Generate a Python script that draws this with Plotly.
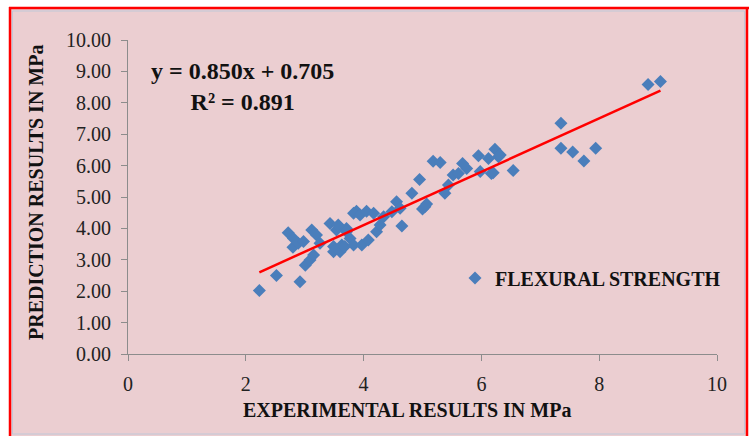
import plotly.graph_objects as go

# Experimental vs predicted flexural strength (MPa)
experimental = [
    2.23, 2.52, 2.92, 2.72, 2.81, 2.80, 2.89, 3.01, 3.09, 3.15,
    2.98, 3.12, 3.20, 3.26, 3.43, 3.49, 3.63, 3.54, 3.71, 3.49,
    3.60, 3.57, 3.71, 3.77, 3.68, 3.83, 3.97, 4.08, 4.22, 4.28,
    3.88, 3.83, 3.94, 4.05, 4.17, 4.34, 4.48, 4.56, 4.62, 4.65,
    4.82, 4.95, 5.04, 5.07, 5.00, 5.18, 5.30, 5.44, 5.38, 5.52,
    5.61, 5.68, 5.75, 5.98, 5.95, 6.12, 6.17, 6.23, 6.29, 6.32,
    6.20, 6.54, 7.35, 7.35, 7.55, 7.74, 7.94, 8.83, 9.04,
]
predicted = [
    2.02, 2.50, 2.30, 3.86, 3.68, 3.40, 3.53, 2.83, 2.99, 3.15,
    3.58, 3.95, 3.79, 3.53, 4.16, 3.42, 3.47, 3.95, 4.00, 3.26,
    3.26, 4.11, 3.89, 3.68, 3.42, 3.47, 3.47, 3.63, 3.89, 4.11,
    4.55, 4.48, 4.43, 4.55, 4.48, 4.37, 4.53, 4.85, 4.64, 4.08,
    5.12, 5.56, 4.69, 4.78, 4.62, 6.14, 6.10, 5.38, 5.12, 5.70,
    5.75, 6.07, 5.91, 5.81, 6.31, 6.23, 5.75, 6.52, 6.28, 6.34,
    5.77, 5.84, 7.35, 6.55, 6.43, 6.15, 6.55, 8.58, 8.68,
]

# Linear trendline coefficients
slope = 0.850
intercept = 0.705
r_squared = 0.891

x_ticks = [0, 2, 4, 6, 8, 10]
y_ticks = [0, 1, 2, 3, 4, 5, 6, 7, 8, 9, 10]

W, H = 749, 436
L, R, T, B = 128, 32, 40, 82
PW, PH = W - L - R, H - T - B


def px(x):
    return (x - L) / PW


def py(y):
    return (H - B - y) / PH


BG = "#EBCED1"
SERIF = "Liberation Serif, Times New Roman, serif"

fig = go.Figure()

fig.add_trace(go.Scatter(
    x=experimental, y=predicted, mode="markers",
    name="FLEXURAL STRENGTH",
    marker=dict(symbol="diamond", size=10, color="#4A7EBB"),
))

x_fit = [min(experimental), max(experimental)]
y_fit = [slope * v + intercept for v in x_fit]
fig.add_trace(go.Scatter(
    x=x_fit, y=y_fit, mode="lines", showlegend=False,
    line=dict(color="#FF0000", width=2.5), hoverinfo="skip",
))

axis_common = dict(
    showgrid=False, zeroline=False, showline=True,
    linecolor="#8C8C8C", linewidth=1, ticks="outside",
    tickcolor="#8C8C8C", ticklen=6,
    tickfont=dict(family=SERIF, size=20, color="#222222"),
)

fig.update_xaxes(range=[0, 10], tickvals=x_ticks, ticklabelstandoff=6, **axis_common)
fig.update_yaxes(range=[0, 10], tickvals=y_ticks, tickformat=".2f",
                 ticklabelstandoff=6, **axis_common)


def frame_line(x0, y0, x1, y1, color, width):
    return dict(type="line", xref="paper", yref="paper", layer="below",
                x0=px(x0), y0=py(y0), x1=px(x1), y1=py(y1),
                line=dict(color=color, width=width))


fig.update_layout(
    width=W, height=H,
    margin=dict(l=L, r=R, t=T, b=B),
    paper_bgcolor="white",
    plot_bgcolor="rgba(0,0,0,0)",
    showlegend=True,
    legend=dict(
        x=px(455), y=py(278), xanchor="left", yanchor="middle",
        bgcolor="rgba(0,0,0,0)",
        font=dict(family=SERIF, size=20, color="#111111", weight="bold"),
    ),
    shapes=[
        # chart area fill
        dict(type="rect", xref="paper", yref="paper", layer="below",
             x0=px(10), x1=px(747), y0=py(436), y1=py(8),
             fillcolor=BG, line=dict(width=0)),
        # red outer frame (top, left, right)
        frame_line(9, 8, 749, 8, "#FF0000", 2.5),
        frame_line(10, 7, 10, 436, "#FF0000", 2.5),
        frame_line(747, 7, 747, 436, "#FF0000", 2.5),
        # thin inner chart border
        frame_line(12.5, 11, 744.5, 11, "#BFC8D8", 1),
        frame_line(12.5, 11, 12.5, 434, "#BFC8D8", 1),
        frame_line(744.5, 11, 744.5, 434, "#BFC8D8", 1),
        frame_line(12.5, 434, 744.5, 434, "#BFC8D8", 1),
    ],
    annotations=[
        dict(text=f"y = {slope:.3f}x + {intercept:.3f}<br>R² = {r_squared:.3f}",
             xref="paper", yref="paper", x=px(242), y=py(86),
             xanchor="center", yanchor="middle", showarrow=False, align="center",
             font=dict(family=SERIF, size=24, color="#111111", weight="bold")),
        dict(text="EXPERIMENTAL RESULTS IN MPa",
             xref="paper", yref="paper", x=px(407), y=py(410),
             xanchor="center", yanchor="middle", showarrow=False,
             font=dict(family=SERIF, size=20, color="#111111", weight="bold")),
        dict(text="PREDICTION RESULTS IN MPa", textangle=-90,
             xref="paper", yref="paper", x=px(36), y=py(193),
             xanchor="center", yanchor="middle", showarrow=False,
             font=dict(family=SERIF, size=20, color="#111111", weight="bold")),
    ],
)

fig.write_html("out.html")
